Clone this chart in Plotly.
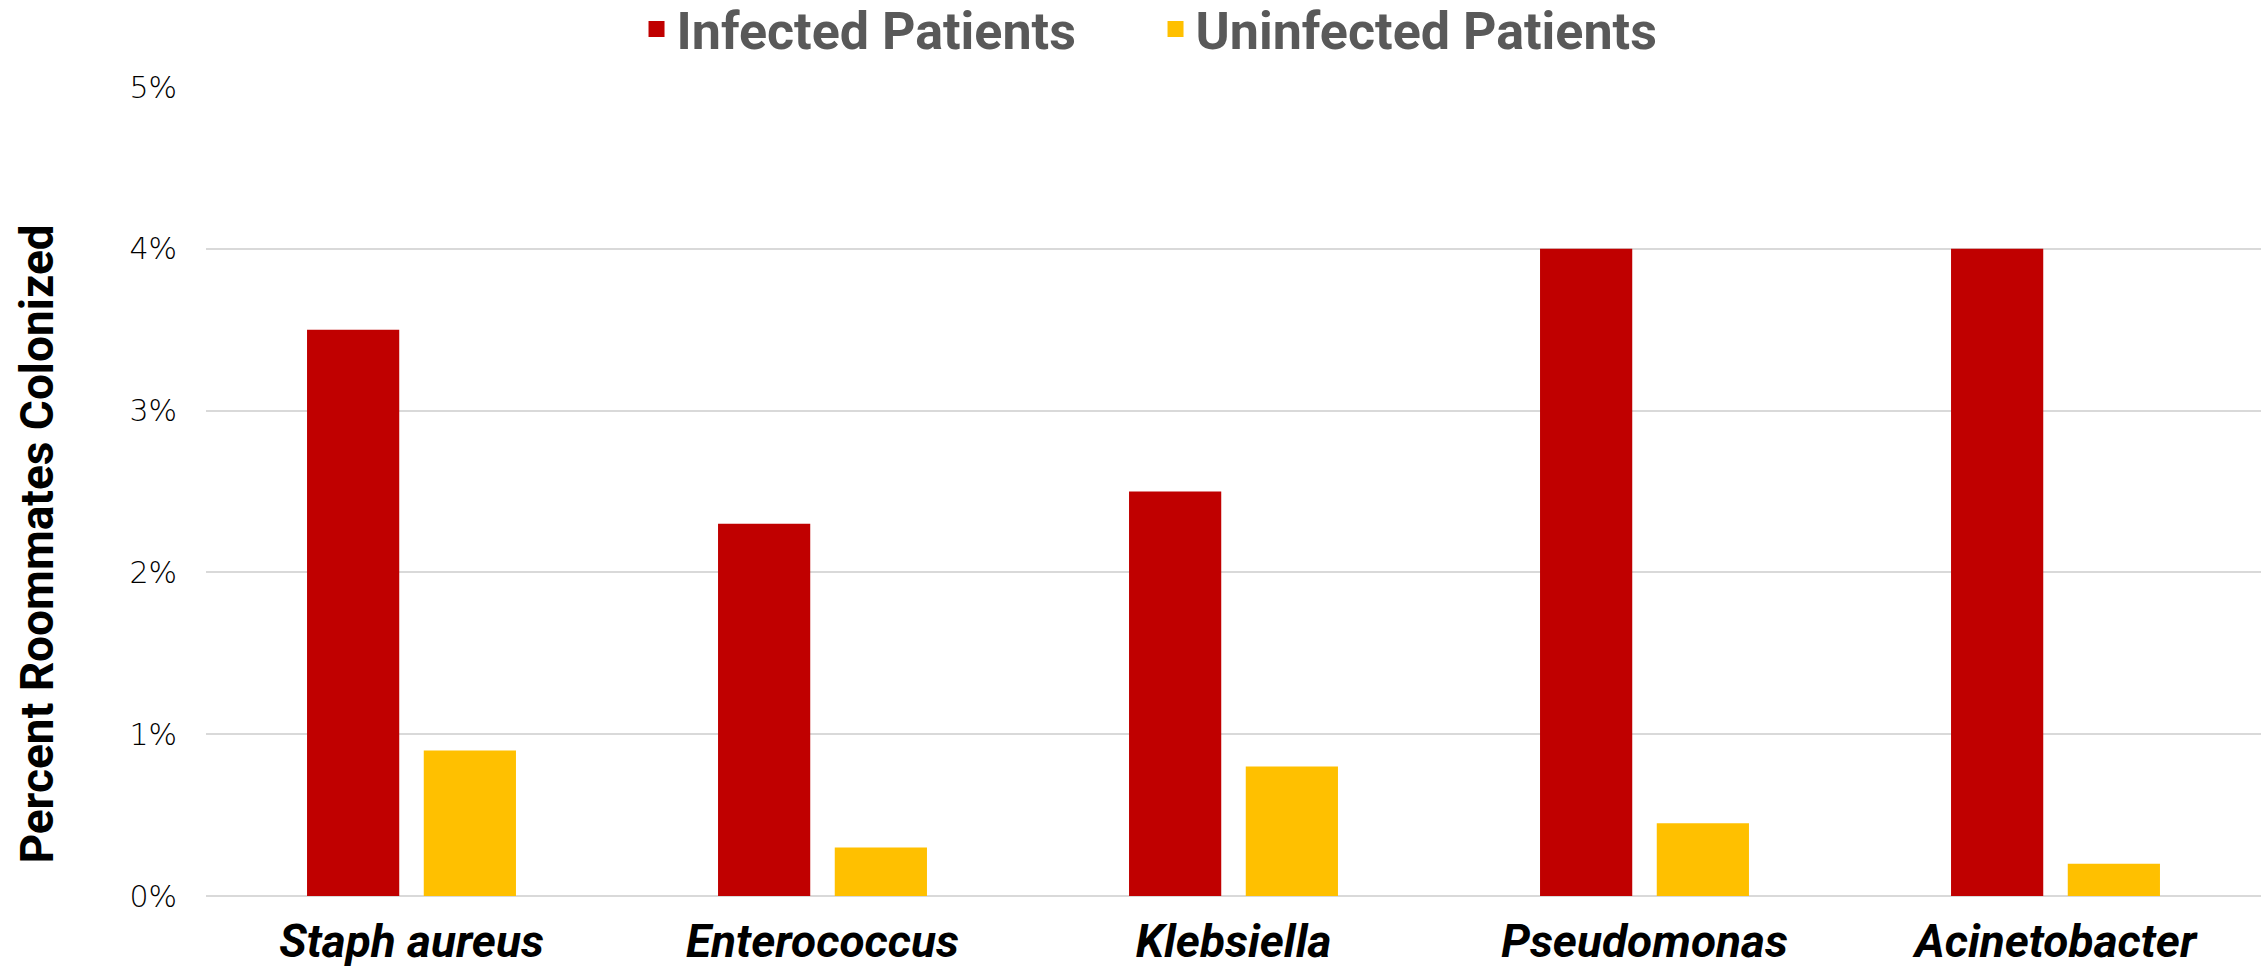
import plotly.graph_objects as go

categories = ["Staph aureus", "Enterococcus", "Klebsiella", "Pseudomonas", "Acinetobacter"]
infected = [3.5, 2.3, 2.5, 4.0, 4.0]
uninfected = [0.9, 0.3, 0.8, 0.45, 0.2]
series_names = ["Infected Patients", "Uninfected Patients"]
tick_vals = [0, 1, 2, 3, 4, 5]
tick_text = ["0%", "1%", "2%", "3%", "4%", "5%"]
y_title = "Percent Roommates Colonized"

RED = "#C00000"
GOLD = "#FFC000"
NARROW = "Liberation Sans Narrow, Arial Narrow, Roboto, sans-serif"

fig = go.Figure()
fig.add_trace(go.Bar(x=categories, y=infected, name=series_names[0],
                     marker=dict(color=RED, line=dict(width=0)), showlegend=False))
fig.add_trace(go.Bar(x=categories, y=uninfected, name=series_names[1],
                     marker=dict(color=GOLD, line=dict(width=0)), showlegend=False))
# legend entries
fig.add_trace(go.Scatter(x=[None], y=[None], mode="markers", name=series_names[0],
                         marker=dict(symbol="square", size=16, color=RED)))
fig.add_trace(go.Scatter(x=[None], y=[None], mode="markers", name=series_names[1],
                         marker=dict(symbol="square", size=16, color=GOLD)))

fig.update_layout(
    width=2261, height=977,
    margin=dict(l=206, r=0, t=87, b=81, autoexpand=False),
    paper_bgcolor="white", plot_bgcolor="white",
    barmode="group", bargap=0.432, bargroupgap=0.21,
    legend=dict(orientation="h", x=0.2095, xanchor="left",
                yref="container", y=0.970, yanchor="middle",
                font=dict(family=NARROW, size=52, color="#595959", weight="bold"),
                entrywidth=474, entrywidthmode="pixels", itemclick=False),
    xaxis=dict(type="category", showgrid=False, showline=False, zeroline=False,
               tickfont=dict(family=NARROW, size=46, color="black", weight="bold", style="italic"),
               ticks="", ticklabelstandoff=14),
    yaxis=dict(range=[0, 5], tickvals=tick_vals, ticktext=tick_text,
               showgrid=True, gridcolor="#D9D9D9", gridwidth=2,
               zeroline=True, zerolinecolor="#D9D9D9", zerolinewidth=2,
               showline=False, ticks="",
               tickfont=dict(family="DejaVu Sans", size=30, color="black", weight=300),
               ticklabelstandoff=28),
    annotations=[dict(text=y_title, xref="paper", yref="paper",
                      x=-0.082, y=0.435, xanchor="center", yanchor="middle",
                      textangle=-90, showarrow=False,
                      font=dict(family=NARROW, size=46, color="black", weight="bold"))],
)

fig.write_html("out.html", config={"displayModeBar": False},
               post_script="document.body.style.margin='0';")
